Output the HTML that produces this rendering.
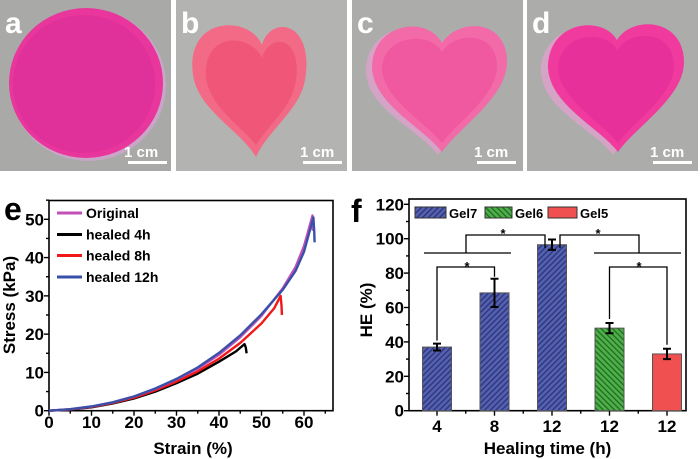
<!DOCTYPE html>
<html><head><meta charset="utf-8"><style>
html,body{margin:0;padding:0;background:#fff;}
svg{display:block;font-family:"Liberation Sans",Arial,sans-serif;font-weight:bold;}
</style></head><body>
<svg id="fig" width="700" height="459" viewBox="0 0 700 459">
<defs>
<pattern id="hBlue" patternUnits="userSpaceOnUse" width="4" height="4" patternTransform="rotate(45)"><rect width="4" height="4" fill="#5460b0"/><rect width="1.3" height="4" fill="#2c3478"/></pattern>
<pattern id="hGreen" patternUnits="userSpaceOnUse" width="4" height="4" patternTransform="rotate(-45)"><rect width="4" height="4" fill="#4fb04a"/><rect width="1.3" height="4" fill="#1f6b22"/></pattern>
</defs>
<g>
<rect x="0" y="0" width="171" height="171" fill="#a9aaa7"/>
<ellipse cx="88" cy="85" rx="78" ry="76" fill="#c9a6c8"/>
<ellipse cx="86" cy="83" rx="77" ry="75" fill="#e8369c"/>
<ellipse cx="84" cy="84" rx="71" ry="69" fill="#e0309a"/>
<text x="5" y="33" fill="#fff" font-size="30">a</text>
<text x="124" y="157" fill="#fff" font-size="15">1 cm</text>
<rect x="128" y="161" width="39" height="3" fill="#fff"/>
</g>
<g>
<rect x="176" y="0" width="171" height="171" fill="#b3b4b1"/>
<path d="M262 45 C250 15 185 15 193 75 C198 110 240 130 256 157 C268 130 300 110 305 80 C315 20 270 15 262 45 Z" fill="#f26a86"/>
<path d="M262 58 C250 32 202 32 206 78 C211 108 240 125 256 145 C268 125 292 108 296 80 C302 36 270 32 262 58 Z" fill="#ec4a70" opacity="0.6"/>
<text x="181" y="33" fill="#fff" font-size="30">b</text>
<text x="300" y="157" fill="#fff" font-size="15">1 cm</text>
<rect x="303" y="161" width="39" height="3" fill="#fff"/>
</g>
<g>
<rect x="352" y="0" width="171" height="171" fill="#acadaa"/>
<path d="M440 45 C425 15 365 25 366 72 C368 110 420 130 438 155 C455 130 505 100 505 65 C505 20 455 20 440 45 Z" fill="#d4a3c6"/>
<path d="M442 43 C428 15 372 22 372 68 C374 105 424 128 442 152 C458 128 507 98 507 62 C507 18 458 18 442 43 Z" fill="#f26aa8"/>
<path d="M442 52 C430 30 382 35 382 70 C385 100 425 122 442 143 C457 122 497 96 497 66 C497 32 456 30 442 52 Z" fill="#f0589f"/>
<text x="357" y="33" fill="#fff" font-size="30">c</text>
<text x="474" y="157" fill="#fff" font-size="15">1 cm</text>
<rect x="477" y="161" width="39" height="3" fill="#fff"/>
</g>
<g>
<rect x="527" y="0" width="171" height="171" fill="#acadaa"/>
<path d="M615 45 C600 15 540 25 541 72 C543 110 595 130 613 155 C630 130 680 100 680 65 C680 20 630 20 615 45 Z" fill="#d4a3c6"/>
<path d="M617 40 C603 15 548 20 548 68 C550 105 600 128 618 152 C634 128 684 98 684 62 C684 18 632 15 617 40 Z" fill="#f03a9e"/>
<path d="M617 50 C605 28 558 33 558 70 C561 100 601 122 618 143 C633 122 674 96 674 66 C674 30 631 28 617 50 Z" fill="#e8309a"/>
<text x="532" y="33" fill="#fff" font-size="30">d</text>
<text x="650" y="157" fill="#fff" font-size="15">1 cm</text>
<rect x="653" y="161" width="39" height="3" fill="#fff"/>
</g>
<g id="chartE"></g>
<g id="chartF"></g>
</svg>
<script>
// ---- chart e data ----
const strainOrig = [0,5,10,15,20,25,30,35,40,45,50,55,58,60,61,62,62.1];
const stressOrig = [0,0.4,1.1,2.2,3.7,5.7,8.2,11,14.6,19.2,24.8,32,37.5,43,47,51,47];
const strain4 = [0,5,10,15,20,25,30,35,40,44,46,46.3,46.5];
const stress4 = [0,0.3,0.9,1.9,3.2,5,7.2,9.7,12.8,15.5,17.4,16.5,15];
const strain8 = [0,5,10,15,20,25,30,35,40,45,50,53,54.5,54.7,54.8];
const stress8 = [0,0.35,1,2,3.4,5.3,7.6,10.3,13.6,17.7,22.8,26.8,30,27.5,25];
const strain12 = [0,5,10,15,20,25,30,35,40,45,50,55,58,60,62.2,62.4,62.5];
const stress12 = [0,0.4,1.1,2.2,3.7,5.8,8.3,11.3,15.1,19.7,25.2,31.6,36.5,41.5,50.5,47,44];
const eXTicks = [0,10,20,30,40,50,60];
const eYTicks = [0,10,20,30,40,50];
const eSeriesNames = ["Original","healed 4h","healed 8h","healed 12h"];
// ---- chart f data ----
const fCategories = ["4","8","12","12","12"];
const fValues = [37,68.5,96.5,48,33];
const fErrors = [2,8.2,3,3,3];
const fYTicks = [0,20,40,60,80,100,120];
const fGroups = ["Gel7","Gel7","Gel7","Gel6","Gel5"];

const NS = "http://www.w3.org/2000/svg";
function mk(parent, tag, attrs, text){
  const el = document.createElementNS(NS, tag);
  for (const k in attrs) el.setAttribute(k, attrs[k]);
  if (text !== undefined) el.textContent = text;
  parent.appendChild(el);
  return el;
}
// ===== Chart E =====
(function(){
  const g = document.getElementById('chartE');
  const x0=49, x1=333, y0=410.7, yTop=200.5;
  const xs = v => x0 + v*(304-49)/60;
  const ys = v => y0 - v*(410.7-219.3)/50;
  const lab = mk(g,'text',{x:4,y:220,'font-size':32});
  lab.textContent='e';
  
  
  const frame = mk(g,'rect',{x:x0,y:yTop,width:x1-x0,height:y0-yTop,fill:'none',stroke:'#000','stroke-width':1.6});
  
  
  for (let v=0; v<=65; v+=5){
    const major = v%10===0;
    mk(g,'line',{x1:xs(v),x2:xs(v),y1:y0,y2:y0+(major?5:3),stroke:'#000','stroke-width':1.4});
  }
  for (let v=0; v<=55; v+=5){
    const major = v%10===0;
    mk(g,'line',{x1:x0,x2:x0-(major?5:3),y1:ys(v),y2:ys(v),stroke:'#000','stroke-width':1.4});
  }
  eXTicks.forEach(v=>{
    const t = mk(g,'text',{x:xs(v),y:428,'font-size':17,'text-anchor':'middle'},String(v));
    
    
  });
  eYTicks.forEach(v=>{
    const t = mk(g,'text',{x:44,y:ys(v)+6,'font-size':17,'text-anchor':'end'},String(v));
    
    
  });
  const xt = mk(g,'text',{x:(x0+x1)/2+2,y:454,'font-size':17,'text-anchor':'middle'},'Strain (%)');
  
  
  const yt = mk(g,'text',{x:0,y:0,'font-size':17,'text-anchor':'middle',transform:'translate(15,305) rotate(-90)'},'Stress (kPa)');
  
  
  const series = [[strain4,stress4,'#000'],[strain8,stress8,'#f01818'],[strainOrig,stressOrig,'#c050b8'],[strain12,stress12,'#3a50a8']];
  series.forEach(s=>{
    const pts = s[0].map((v,i)=>xs(v).toFixed(1)+','+ys(s[1][i]).toFixed(1)).join(' ');
    const p = mk(g,'polyline',{points:pts,fill:'none',stroke:s[2],'stroke-width':2.4,'stroke-linejoin':'round'});
    
    
  });
  const colors = ['#c050b8','#000','#f01818','#3a50a8'];
  const ly = [213,234.5,255.5,277];
  eSeriesNames.forEach((n,i)=>{
    mk(g,'line',{x1:57,x2:82,y1:ly[i],y2:ly[i],stroke:colors[i],'stroke-width':3});
    const t = mk(g,'text',{x:86,y:ly[i]+5,'font-size':14},n);
    
    
  });
})();
// ===== Chart F =====
(function(){
  const g = document.getElementById('chartF');
  const x0=409, x1=686, y0=410.7, yTop=199;
  const ys = v => y0 - v*(410.7-204.3)/120;
  const step = 57.5;
  const xc = i => 437 + i*step;
  const bw = 29;
  const lab = mk(g,'text',{x:351,y:222,'font-size':32},'f');
  
  
  const frame = mk(g,'rect',{x:x0,y:yTop,width:x1-x0,height:y0-yTop,fill:'none',stroke:'#000','stroke-width':1.6});
  
  
  for (let v=0; v<=120; v+=10){
    const major = v%20===0;
    mk(g,'line',{x1:x0,x2:x0-(major?5:3),y1:ys(v),y2:ys(v),stroke:'#000','stroke-width':1.4});
  }
  fYTicks.forEach(v=>{
    const t = mk(g,'text',{x:404,y:ys(v)+6,'font-size':17,'text-anchor':'end'},String(v));
    
    
  });
  const fills = {Gel7:'url(#hBlue)',Gel6:'url(#hGreen)',Gel5:'#f05050'};
  fCategories.forEach((c,i)=>{
    mk(g,'line',{x1:xc(i),x2:xc(i),y1:y0,y2:y0+5,stroke:'#000','stroke-width':1.4});
    if (i<fCategories.length-1) mk(g,'line',{x1:xc(i)+step/2,x2:xc(i)+step/2,y1:y0,y2:y0+3,stroke:'#000','stroke-width':1.4});
    const b = mk(g,'rect',{x:xc(i)-bw/2,y:ys(fValues[i]),width:bw,height:y0-ys(fValues[i]),fill:fills[fGroups[i]],stroke:'#555','stroke-width':1});
    
    
    const hi = ys(fValues[i]+fErrors[i]), lo = ys(fValues[i]-fErrors[i]);
    const e = mk(g,'path',{d:`M${xc(i)} ${hi}V${lo}M${xc(i)-4} ${hi}H${xc(i)+4}M${xc(i)-4} ${lo}H${xc(i)+4}`,stroke:'#000','stroke-width':2,fill:'none'});
    
    
    const t = mk(g,'text',{x:xc(i),y:432,'font-size':17,'text-anchor':'middle'},c);
    
    
  });
  const xt = mk(g,'text',{x:(x0+x1)/2,y:454,'font-size':17,'text-anchor':'middle'},'Healing time (h)');
  
  
  const yt = mk(g,'text',{x:0,y:0,'font-size':17,'text-anchor':'middle',transform:'translate(372,310) rotate(-90)'},'HE (%)');
  
  
  const br = mk(g,'path',{d:
    `M424 253H511M466 253V235H545V248`+
    `M560 248V235H639V253M594 253H681`+
    `M${xc(0)} ${ys(fValues[0]+fErrors[0])-3}V267H${xc(1)}V${ys(fValues[1]+fErrors[1])-2}`+
    `M${xc(3)} ${ys(fValues[3]+fErrors[3])-4}V267H${xc(4)}V${ys(fValues[4]+fErrors[4])-4}`,
    stroke:'#000','stroke-width':1.3,fill:'none'});
  
  
  [[503,238],[598,238],[467,271],[639,271]].forEach(p=>{
    const s = mk(g,'text',{x:p[0],y:p[1],'font-size':13,'text-anchor':'middle'},'*');
    
    
  });
  const leg = [['Gel7',415,31,'url(#hBlue)'],['Gel6',485,27,'url(#hGreen)'],['Gel5',548,29,'#f05050']];
  leg.forEach(l=>{
    mk(g,'rect',{x:l[1],y:207,width:l[2],height:11,fill:l[3],stroke:'#333','stroke-width':1});
    const t = mk(g,'text',{x:l[1]+l[2]+3,y:218,'font-size':13},l[0]);
    
    
  });
})();
</script>
</body></html>
